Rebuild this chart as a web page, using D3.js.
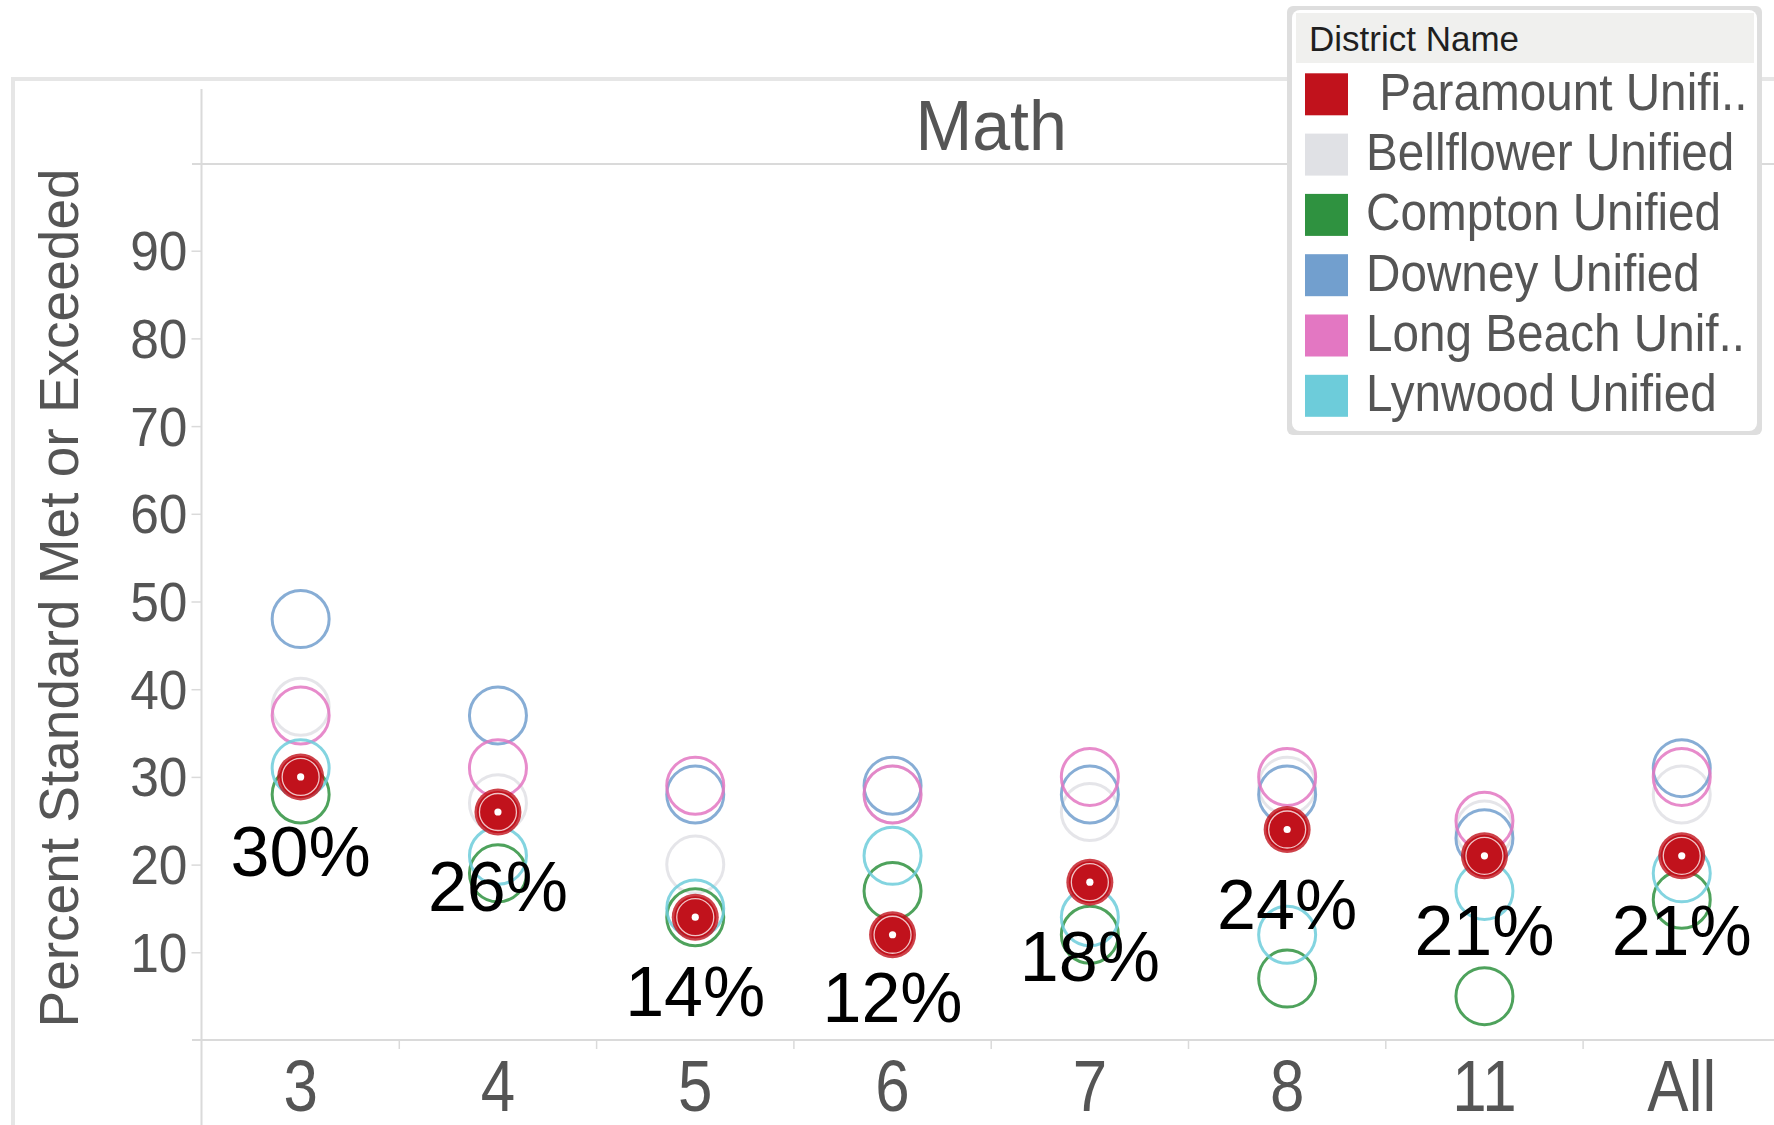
<!DOCTYPE html>
<html>
<head>
<meta charset="utf-8">
<script src="https://cdn.jsdelivr.net/npm/d3@7"></script>
<style>
body { margin: 0; background: #fff; }
svg { display: block; font-family: 'Liberation Sans', Arial, sans-serif; }
</style>
</head>
<body>
<script>
// data
var grades = ['3', '4', '5', '6', '7', '8', '11', 'All'];
var yTicks = [10, 20, 30, 40, 50, 60, 70, 80, 90];

var districts = ['Paramount Unified', 'Bellflower Unified', 'Compton Unified', 'Downey Unified', 'Long Beach Unified', 'Lynwood Unified'];
var legendLabels = ['\u00a0Paramount Unifi..', 'Bellflower Unified', 'Compton Unified', 'Downey Unified', 'Long Beach Unif..', 'Lynwood Unified'];
var colors = ['#c1121c', '#e0e1e5', '#2f9240', '#729fce', '#e377c2', '#6dccda'];

var paramount  = [30, 26, 14, 12, 18, 24, 21, 21];
var bellflower = [38, 27, 20, 28, 26, 29, 24, 28];
var compton    = [28, 19, 14, 17, 12, 7, 5, 16];
var downey     = [48, 37, 28, 29, 28, 28, 23, 31];
var longBeach  = [37, 31, 29, 28, 30, 30, 25, 30];
var lynwood    = [31, 21, 15, 21, 14, 12, 17, 19];

var seriesValues = [paramount, bellflower, compton, downey, longBeach, lynwood];
var series = districts.map(function(name, i) {
	return { name: name, color: colors[i], values: seriesValues[i] };
});

var W = 1774, H = 1125;
var gridColor = '#dadada';
var textColor = '#555';

var svg = d3.select('body').append('svg')
	.attr('width', W)
	.attr('height', H);

var x = d3.scaleBand().domain(grades).range([202, 202 + 197.3 * grades.length]);
var y = d3.scaleLinear().domain([0, 100]).range([1040, 163]);
var cx = function(g) { return x(g) + x.bandwidth() / 2; };

// outer frame of the worksheet
svg.append('rect')
	.attr('x', 13).attr('y', 79)
	.attr('width', W).attr('height', H)
	.attr('fill', 'none')
	.attr('stroke', '#e6e6e6')
	.attr('stroke-width', 4);

// header line, axis line, base line
svg.append('line')
	.attr('x1', 192).attr('x2', W).attr('y1', 164).attr('y2', 164)
	.attr('stroke', gridColor).attr('stroke-width', 2);
svg.append('line')
	.attr('x1', 201.5).attr('x2', 201.5).attr('y1', 89).attr('y2', H)
	.attr('stroke', gridColor).attr('stroke-width', 2);
svg.append('line')
	.attr('x1', 192).attr('x2', W).attr('y1', y(0)).attr('y2', y(0))
	.attr('stroke', gridColor).attr('stroke-width', 2);

// y axis
var yAxis = svg.append('g')
	.attr('transform', 'translate(201.5,0)')
	.call(d3.axisLeft(y).tickValues(yTicks).tickSize(10).tickFormat(d3.format('d')))
	.attr('font-family', null)
	.attr('font-size', null);
yAxis.select('.domain').remove();
yAxis.selectAll('line').attr('stroke', gridColor).attr('stroke-width', 1.5);
yAxis.selectAll('text')
	.attr('x', null)
	.attr('dy', '0.34em')
	.attr('transform', 'translate(-14,0) scale(0.92,1)')
	.attr('fill', textColor)
	.style('font-size', '56px');

// x axis labels
var xAxis = svg.append('g')
	.attr('transform', 'translate(0,' + y(0) + ')')
	.call(d3.axisBottom(x).tickSize(0))
	.attr('font-family', null)
	.attr('font-size', null);
xAxis.select('.domain').remove();
xAxis.selectAll('text')
	.attr('y', null)
	.attr('dy', null)
	.attr('transform', 'translate(0,71) scale(0.86,1)')
	.attr('fill', textColor)
	.style('font-size', '72px');

// dividers between the grade columns
svg.selectAll('.divider')
	.data(grades.slice(1))
	.join('line')
	.attr('class', 'divider')
	.attr('x1', function(d) { return x(d); })
	.attr('x2', function(d) { return x(d); })
	.attr('y1', y(0))
	.attr('y2', y(0) + 9)
	.attr('stroke', gridColor)
	.attr('stroke-width', 1.5);

// pane title
svg.append('text')
	.attr('transform', 'translate(' + ((x.range()[0] + x.range()[1]) / 2) + ',150) scale(0.96,1)')
	.attr('text-anchor', 'middle')
	.attr('fill', textColor)
	.style('font-size', '71px')
	.text('Math');

// y axis title
svg.append('text')
	.attr('transform', 'translate(78,598) rotate(-90)')
	.attr('text-anchor', 'middle')
	.attr('fill', textColor)
	.style('font-size', '55px')
	.text('Percent Standard Met or Exceeded');

// hollow circles for the comparison districts
series.slice(1).forEach(function(s) {
	svg.append('g').selectAll('circle')
		.data(s.values)
		.join('circle')
		.attr('cx', function(d, i) { return cx(grades[i]); })
		.attr('cy', function(d) { return y(d); })
		.attr('r', 28.5)
		.attr('fill', 'none')
		.attr('stroke', s.color)
		.attr('stroke-width', 3)
		.attr('stroke-opacity', 0.85);
});

// highlighted Paramount marks
var pm = svg.append('g').selectAll('g')
	.data(series[0].values)
	.join('g')
	.attr('transform', function(d, i) { return 'translate(' + cx(grades[i]) + ',' + y(d) + ')'; });
pm.append('circle').attr('r', 23.5).attr('fill', series[0].color).attr('fill-opacity', 0.8);
pm.append('circle').attr('r', 21).attr('fill', series[0].color);
pm.append('circle').attr('r', 18.5).attr('fill', 'none')
	.attr('stroke', '#fff').attr('stroke-width', 1.3).attr('stroke-opacity', 0.75);
pm.append('circle').attr('r', 3.6).attr('fill', '#fff');

// percent labels under Paramount marks (kept inside the pane)
svg.append('g').selectAll('text')
	.data(series[0].values)
	.join('text')
	.attr('x', function(d, i) { return cx(grades[i]); })
	.attr('y', function(d) { return Math.min(y(d) + 99, y(0) - 18); })
	.attr('text-anchor', 'middle')
	.attr('fill', '#000')
	.style('font-size', '70px')
	.text(function(d) { return d + '%'; });

// legend
var lg = svg.append('g');
lg.append('rect').attr('x', 1287).attr('y', 6).attr('width', 475).attr('height', 429)
	.attr('rx', 6).attr('fill', '#dedede');
lg.append('rect').attr('x', 1292).attr('y', 10).attr('width', 465).attr('height', 421)
	.attr('rx', 8).attr('fill', '#fff');
lg.append('rect').attr('x', 1296).attr('y', 13).attr('width', 458).attr('height', 50)
	.attr('fill', '#f0f0ee');
lg.append('text')
	.attr('x', 1309).attr('y', 51)
	.attr('fill', '#1f1f1f')
	.style('font-size', '35px')
	.text('District Name');

var item = lg.selectAll('.item')
	.data(series)
	.join('g')
	.attr('class', 'item')
	.attr('transform', function(d, i) { return 'translate(1305,' + (73.3 + i * 60.3) + ')'; });
item.append('rect')
	.attr('width', 43).attr('height', 42)
	.attr('fill', function(d) { return d.color; });
item.append('text')
	.attr('transform', 'translate(61,36.5) scale(0.935,1)')
	.attr('fill', textColor)
	.style('font-size', '51px')
	.text(function(d, i) { return legendLabels[i]; });
</script>
</body>
</html>
